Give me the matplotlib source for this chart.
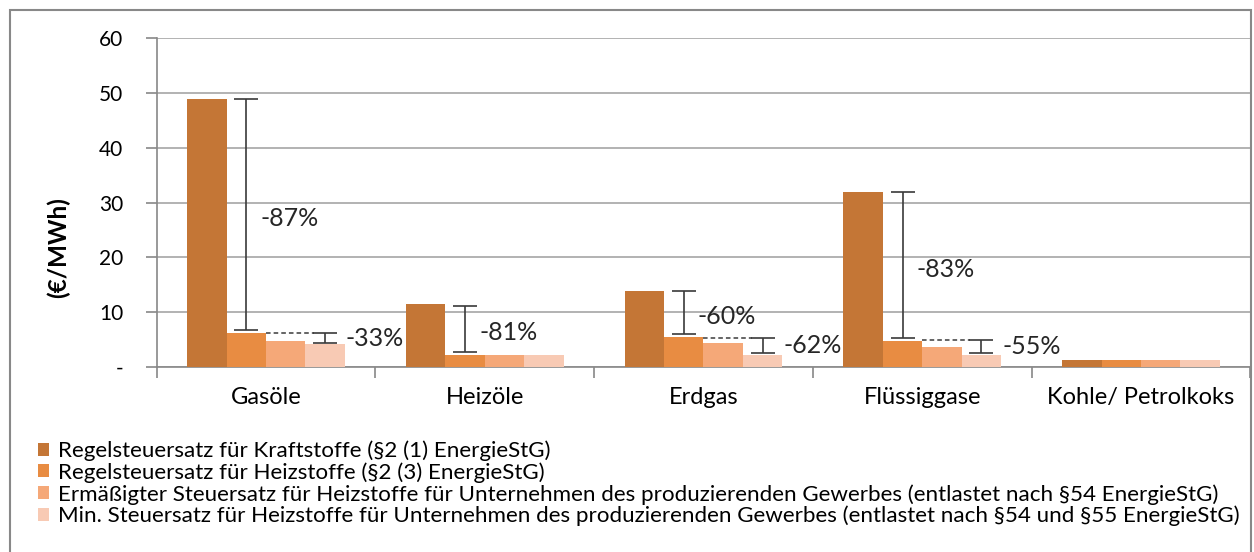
"""
Energiesteuersätze nach Energieträger (Balkendiagramm mit Entlastungsspannen)
"""

import matplotlib
matplotlib.use('Agg')
import matplotlib.pyplot as plt
from matplotlib.patches import Rectangle
import numpy as np

plt.rcParams['font.family'] = ['Lato', 'DejaVu Sans']

# ==================== Daten ====================

categories = ['Gasöle', 'Heizöle', 'Erdgas', 'Flüssiggase', 'Kohle/ Petrolkoks']

series_names = [
    'Regelsteuersatz für Kraftstoffe (§2 (1) EnergieStG)',
    'Regelsteuersatz für Heizstoffe (§2 (3) EnergieStG)',
    'Ermäßigter Steuersatz für Heizstoffe für Unternehmen des produzierenden Gewerbes (entlastet nach §54 EnergieStG)',
    'Min. Steuersatz für Heizstoffe für Unternehmen des produzierenden Gewerbes (entlastet nach §54 und §55 EnergieStG)',
]
kraftstoff = [48.9, 11.5, 13.9, 31.9, 1.3]
heizstoff = [6.2, 2.2, 5.5, 4.7, 1.3]
ermaessigt = [4.7, 2.2, 4.4, 3.6, 1.3]
minimal = [4.3, 2.2, 2.2, 2.2, 1.3]

# Spanne Kraftstoff -> Heizstoff
drop1_cat = [0, 1, 2, 3]
drop1_top = [48.9, 11.2, 13.8, 31.9]
drop1_bottom = [6.75, 2.8, 6.0, 5.3]
drop1_label = ['-87%', '-81%', '-60%', '-83%']

# Spanne Heizstoff -> Min. Steuersatz
drop2_cat = [0, 2, 3]
drop2_top = [6.2, 5.3, 4.9]
drop2_bottom = [4.4, 2.5, 2.5]
drop2_label = ['-33%', '-62%', '-55%']

colors = ['#C47636', '#E88C42', '#F5A878', '#F8CAB4']

# ==================== Diagramm ====================

fig = plt.figure(figsize=(12.54, 5.52), dpi=100)
ax = fig.add_axes([0.125, 0.335, 0.872, 0.596])

x = np.arange(len(categories))
w = 0.18
offsets = [-1.5 * w, -0.5 * w, 0.5 * w, 1.5 * w]
all_series = [kraftstoff, heizstoff, ermaessigt, minimal]
for vals, off, col, name in zip(all_series, offsets, colors, series_names):
    ax.bar(x + off, vals, width=w, color=col, label=name, zorder=3)

ekw = dict(fmt='none', ecolor='#3a3a3a', elinewidth=1.2, capsize=8.3, capthick=1.2, zorder=4)

# große Spanne über Balken 2
for c, top, bot, lab in zip(drop1_cat, drop1_top, drop1_bottom, drop1_label):
    xp = x[c] + offsets[1]
    mid = (top + bot) / 2
    ax.errorbar([xp], [mid], yerr=[[mid - bot], [top - mid]], **ekw)
    ax.annotate(lab, (xp, mid), xytext=(10, -3), textcoords='offset points',
                va='center', ha='left', fontsize=18, color='#262626', zorder=5)

# kleine Spanne über Balken 4 mit gestrichelter Linie
for c, top, bot, lab in zip(drop2_cat, drop2_top, drop2_bottom, drop2_label):
    xp = x[c] + offsets[3]
    mid = (top + bot) / 2
    ax.errorbar([xp], [mid], yerr=[[mid - bot], [top - mid]], **ekw)
    ax.plot([x[c] + offsets[2] - w / 2, xp - 0.05], [top, top],
            ls=(0, (3, 2)), color='#3a3a3a', lw=1.1, zorder=4)
    ax.annotate(lab, (xp, mid), xytext=(15, 0), textcoords='offset points',
                va='center', ha='left', fontsize=18, color='#262626', zorder=5)

# Achsen
ax.set_xlim(-0.5, len(categories) - 0.5)
ax.set_ylim(0, 60)
ax.set_yticks(range(0, 61, 10))
ax.set_yticklabels(['-'] + [str(v) for v in range(10, 61, 10)])
ax.set_xticks(x)
ax.set_xticklabels(categories)
ax.set_xticks(np.arange(-0.5, len(categories)), minor=True)
ax.tick_params(axis='x', which='major', length=0, pad=14, labelsize=17)
ax.tick_params(axis='x', which='minor', length=8, color='#888888', width=1.2)
ax.tick_params(axis='y', length=8, color='#888888', width=1.2, pad=16, labelsize=15)

ax.grid(axis='y', color='#a6a6a6', lw=1.2, zorder=0)
for side in ['top', 'right']:
    ax.spines[side].set_visible(False)
for side in ['left', 'bottom']:
    ax.spines[side].set_color('#888888')
    ax.spines[side].set_linewidth(1.2)

ax.set_ylabel('(€/MWh)', fontsize=17.5, fontweight='bold')
ax.yaxis.set_label_coords(-0.0796, 0.362)

ax.legend(loc='upper left', bbox_to_anchor=(0.03, 0.202), bbox_transform=fig.transFigure,
          frameon=False, fontsize=16.1, handlelength=0.5, handleheight=0.5,
          handletextpad=0.4, labelspacing=0.05, borderaxespad=0, borderpad=0)

# Rahmen um die Grafik
fig.patches.append(Rectangle((0.008, -0.02), 0.99, 1.002, transform=fig.transFigure,
                             fill=False, edgecolor='#888888', lw=1.5))

plt.savefig('out.png', dpi=100)
plt.close()
